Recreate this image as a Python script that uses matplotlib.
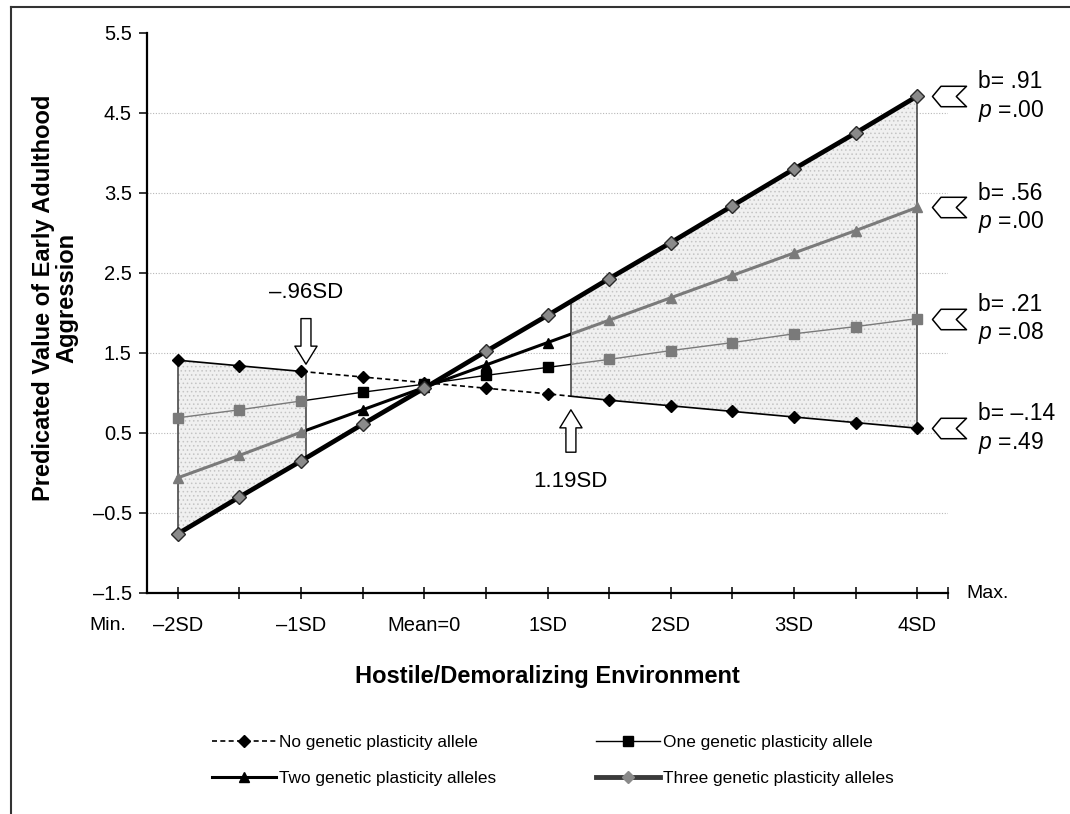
import numpy as np
import matplotlib
matplotlib.use("Agg")
import matplotlib.pyplot as plt
from matplotlib.path import Path
from matplotlib.lines import Line2D
from matplotlib.patches import ArrowStyle

plt.rcParams["font.family"] = ["Liberation Sans", "DejaVu Sans"]
plt.rcParams["mathtext.fontset"] = "custom"
plt.rcParams["mathtext.rm"] = "Liberation Sans"
plt.rcParams["mathtext.it"] = "Liberation Sans:italic"
plt.rcParams["hatch.linewidth"] = 0.6

# ---------------------------------------------------------------------------
# Data
# ---------------------------------------------------------------------------
x_sd = [-2.0, -1.5, -1.0, -0.5, 0.0, 0.5, 1.0, 1.5, 2.0, 2.5, 3.0, 3.5, 4.0]
no_allele = [1.41, 1.34, 1.27, 1.20, 1.13, 1.06, 0.99, 0.91, 0.84, 0.77, 0.70, 0.63, 0.56]
one_allele = [0.69, 0.79, 0.90, 1.01, 1.11, 1.22, 1.32, 1.42, 1.53, 1.63, 1.74, 1.83, 1.93]
two_alleles = [-0.06, 0.22, 0.51, 0.79, 1.07, 1.35, 1.63, 1.91, 2.19, 2.47, 2.75, 3.03, 3.32]
three_alleles = [-0.76, -0.30, 0.15, 0.61, 1.06, 1.52, 1.97, 2.43, 2.88, 3.34, 3.80, 4.25, 4.71]

series_labels = [
    "No genetic plasticity allele",
    "One genetic plasticity allele",
    "Two genetic plasticity alleles",
    "Three genetic plasticity alleles",
]
slopes = ["–.14", ".21", ".56", ".91"]
p_values = [".49", ".08", ".00", ".00"]

regions = [(-2.0, -0.96), (1.19, 4.0)]
region_labels = ["–.96SD", "1.19SD"]

x_tick_pos = [-2, -1, 0, 1, 2, 3, 4]
x_tick_labels = ["–2SD", "–1SD", "Mean=0", "1SD", "2SD", "3SD", "4SD"]
y_ticks = [-1.5, -0.5, 0.5, 1.5, 2.5, 3.5, 4.5, 5.5]
y_tick_labels = ["–1.5", "–0.5", "0.5", "1.5", "2.5", "3.5", "4.5", "5.5"]

# ---------------------------------------------------------------------------
W, H = 1070, 814
fig = plt.figure(figsize=(W / 100, H / 100), dpi=100)
ax = fig.add_axes([147 / W, 1 - 593 / H, (948 - 147) / W, 560 / H])
XMIN, XMAX = -2.25, 4.25
ax.set_xlim(XMIN, XMAX)
ax.set_ylim(-1.5, 5.5)

x = np.asarray(x_sd)
no_arr = np.asarray(no_allele)
three_arr = np.asarray(three_alleles)


def clip_path(spans):
    verts, codes = [], []
    for a, b in spans:
        verts += [(a, -10), (b, -10), (b, 10), (a, 10), (a, -10)]
        codes += [Path.MOVETO, Path.LINETO, Path.LINETO, Path.LINETO, Path.CLOSEPOLY]
    return Path(verts, codes)


inside = clip_path(regions)
outside = clip_path([(-5, regions[0][0]), (regions[0][1], regions[1][0]), (regions[1][1], 9)])
in_mask = np.zeros(len(x), dtype=bool)
for a, b in regions:
    in_mask |= (x >= a) & (x <= b)

# grid
for yv in y_ticks[1:-1]:
    ax.axhline(yv, color="#b8b8b8", lw=0.8, ls=(0, (1, 1.5)), zorder=0.5)

# shaded regions between the top and bottom simple slopes
for a, b in regions:
    xs = np.linspace(a, b, 60)
    lo = np.interp(xs, x, three_arr)
    hi = np.interp(xs, x, no_arr)
    ax.fill_between(xs, lo, hi, facecolor="#f0f0f0", edgecolor="#c4c4c4",
                    hatch="....", lw=0, zorder=1)
    for xv in (a, b):
        ax.vlines(xv, np.interp(xv, x, three_arr), np.interp(xv, x, no_arr),
                  color="#3a3a3a", lw=1.1, zorder=2)

# series: (values, lw, marker, ms, out_color, in_color, out_ls)
styles = [
    (no_allele, 1.2, "D", 6, "black", "black", (0, (3, 2))),
    (one_allele, 1.0, "s", 7.5, "black", "#7a7a7a", "-"),
    (two_alleles, 2.2, "^", 7.5, "black", "#7a7a7a", "-"),
]
for vals, lw, mk, ms, c_out, c_in, ls_out in styles:
    y = np.asarray(vals)
    l1, = ax.plot(x, y, color=c_out, lw=lw, ls=ls_out, zorder=3)
    l1.set_clip_path(outside, ax.transData)
    l2, = ax.plot(x, y, color=c_in, lw=lw, ls="-", zorder=3)
    l2.set_clip_path(inside, ax.transData)
    ax.plot(x[~in_mask], y[~in_mask], ls="none", marker=mk, ms=ms,
            color=c_out, zorder=4)
    ax.plot(x[in_mask], y[in_mask], ls="none", marker=mk, ms=ms,
            color=c_in, mec=c_in, zorder=4)

ax.plot(x, three_arr, color="black", lw=3.4, zorder=5)
ax.plot(x, three_arr, ls="none", marker="D", ms=7, mfc="#8a8a8a", mec="#2a2a2a",
        mew=1.0, zorder=6)

# region boundary arrows and labels
simple = ArrowStyle.Simple(head_length=1.3, head_width=1.6, tail_width=0.72)
ax.annotate("", xy=(regions[0][1], 1.36), xytext=(regions[0][1], 1.93),
            arrowprops=dict(arrowstyle=simple, fc="white", ec="black", lw=1,
                            shrinkA=0, shrinkB=0, mutation_scale=10), zorder=7)
ax.text(regions[0][1], 2.26, region_labels[0], ha="center", va="center", fontsize=16)
ax.annotate("", xy=(regions[1][0], 0.79), xytext=(regions[1][0], 0.26),
            arrowprops=dict(arrowstyle=simple, fc="white", ec="black", lw=1,
                            shrinkA=0, shrinkB=0, mutation_scale=10), zorder=7)
ax.text(regions[1][0], -0.11, region_labels[1], ha="center", va="center", fontsize=16)

# slope tags on the right
tag = Path([(-1, 0), (-0.5, 0.6), (1, 0.6), (0.4, 0), (1, -0.6), (-0.5, -0.6), (-1, 0)],
           [Path.MOVETO] + [Path.LINETO] * 5 + [Path.CLOSEPOLY])
ends = [no_allele[-1], one_allele[-1], two_alleles[-1], three_alleles[-1]]
for yv, b, p in zip(ends, slopes, p_values):
    ax.plot([4.26], [yv], ls="none", marker=tag, ms=24.5, mfc="white", mec="black",
            mew=1.1, clip_on=False, zorder=7)
    ax.annotate(f"b= {b}", xy=(4.49, yv), xytext=(0, 10.3), textcoords="offset points",
                ha="left", va="center", fontsize=16.5, annotation_clip=False)
    ax.annotate(f"$p$ =.{p[1:]}", xy=(4.49, yv), xytext=(0, -10.3),
                textcoords="offset points", ha="left", va="center", fontsize=16.5,
                annotation_clip=False)

# axes styling
for side in ("top", "right"):
    ax.spines[side].set_visible(False)
for side in ("left", "bottom"):
    ax.spines[side].set_linewidth(1.6)

minor_pos = [v for v in np.arange(-2.0, 4.01, 0.5) if v not in x_tick_pos] + [XMAX]
ax.set_xticks(x_tick_pos)
ax.set_xticklabels(x_tick_labels)
ax.set_xticks(minor_pos, minor=True)
ax.tick_params(axis="x", which="both", direction="inout", length=9, width=1.1,
               labelsize=14.5, pad=12)
ax.set_yticks(y_ticks)
ax.set_yticklabels(y_tick_labels)
ax.tick_params(axis="y", direction="out", length=6, width=1.1, labelsize=14.5, pad=5)

fig.text(108 / W, 1 - 626 / H, "Min.", ha="center", va="center", fontsize=14)
fig.text(966 / W, 1 - 593 / H, "Max.", ha="left", va="center", fontsize=14)
fig.text(547 / W, 1 - 676 / H, "Hostile/Demoralizing Environment", ha="center",
         va="center", fontsize=17, fontweight="bold")
fig.text(55 / W, 1 - 298 / H, "Predicated Value of Early Adulthood\nAggression",
         rotation=90, ha="center", va="center", fontsize=17, fontweight="bold",
         multialignment="center", linespacing=1.05)

# legend (column-wise fill: No, Two | One, Three)
h_no = Line2D([], [], color="black", lw=1.2, ls=(0, (3, 2)), marker="D", ms=6)
h_one = Line2D([], [], color="black", lw=1.0, marker="s", ms=7.5)
h_two = Line2D([], [], color="black", lw=2.2, marker="^", ms=7.5)
h_three = Line2D([], [], color="#3a3a3a", lw=3.5, marker="D", ms=6.5,
                 mfc="#8a8a8a", mec="#8a8a8a")
fig.legend([h_no, h_two, h_one, h_three],
           [series_labels[0], series_labels[2], series_labels[1], series_labels[3]],
           ncol=2, loc="upper left", bbox_to_anchor=(212 / W, 1 - 735 / H),
           frameon=False, fontsize=12.4, handlelength=3.7, handletextpad=0.2,
           columnspacing=5.8, labelspacing=1.2, borderpad=0, borderaxespad=0)

# figure border (top and left edges only)
fig.add_artist(Line2D([11 / W, 1], [1 - 7 / H, 1 - 7 / H], transform=fig.transFigure,
                      color="#333333", lw=1.5))
fig.add_artist(Line2D([11 / W, 11 / W], [0, 1 - 7 / H], transform=fig.transFigure,
                      color="#333333", lw=1.5))

fig.savefig("out.png", dpi=100)
